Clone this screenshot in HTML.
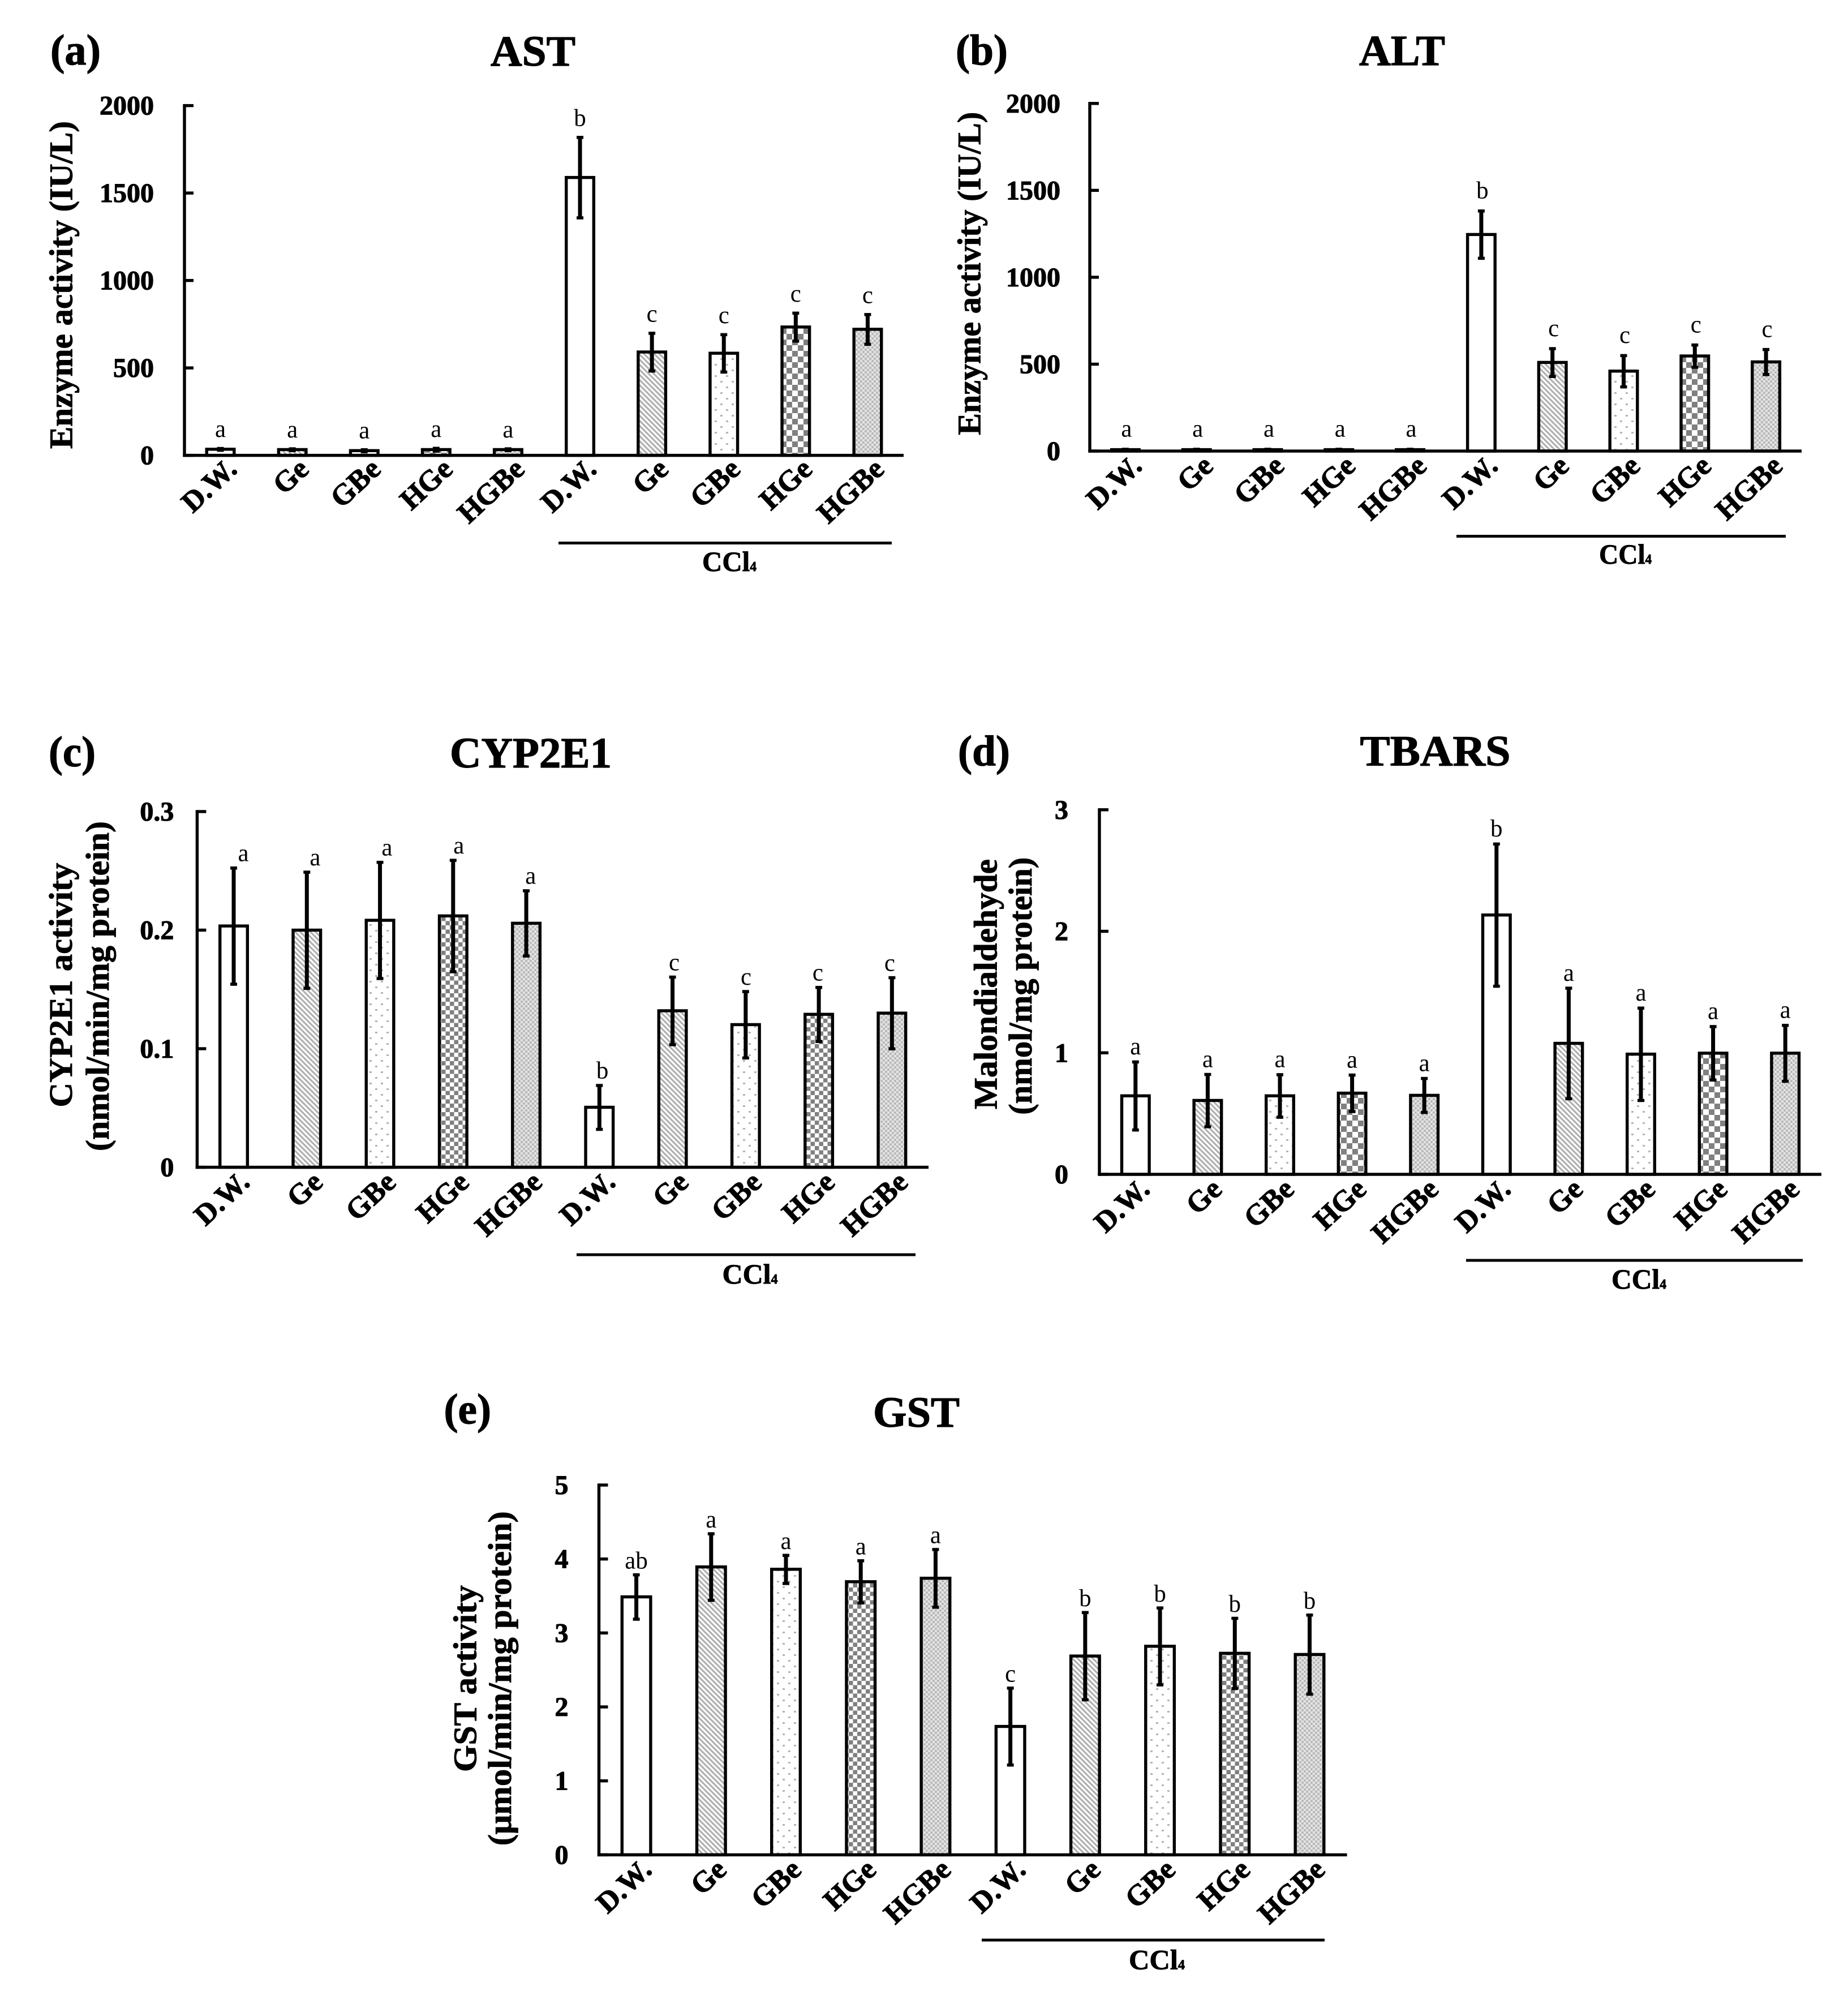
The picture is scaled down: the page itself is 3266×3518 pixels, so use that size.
<!DOCTYPE html>
<html lang="en">
<head>
<meta charset="utf-8">
<title>Liver enzyme and oxidative stress bar charts</title>
<style>
html,body{margin:0;padding:0;background:#fff;}
svg{display:block;}
text{font-family:"Liberation Serif",serif;fill:#000;}
.b{font-weight:bold;stroke:#000;stroke-width:1.1px;}
.head{font-weight:bold;font-size:76px;stroke:#000;stroke-width:1.2px;}
.yl{font-weight:bold;font-size:58px;text-anchor:middle;stroke:#000;stroke-width:0.9px;}
.ccl{font-weight:bold;font-size:50px;stroke:#000;stroke-width:0.9px;}
.ccl tspan{font-size:24px;}
</style>
</head>
<body>
<svg id="figure" xmlns="http://www.w3.org/2000/svg" width="3266" height="3518" viewBox="0 0 3266 3518">
<defs>
  <pattern id="pat-ge" width="9" height="9" patternUnits="userSpaceOnUse">
    <rect width="9" height="9" fill="#fff"/>
    <path d="M-3,-3 L12,12 M-3,6 L3,12 M6,-3 L12,3" stroke="#b0b0b0" stroke-width="3.2"/>
  </pattern>
  <pattern id="pat-gbe" width="20" height="20" patternUnits="userSpaceOnUse">
    <rect width="20" height="20" fill="#fff"/>
    <rect x="3" y="3" width="4" height="3" fill="#b4b4b4"/>
    <rect x="13" y="13" width="4" height="3" fill="#b4b4b4"/>
  </pattern>
  <pattern id="pat-hge-lg" width="20" height="20" patternUnits="userSpaceOnUse">
    <rect width="20" height="20" fill="#fff"/>
    <rect width="10" height="10" fill="#808080"/>
    <rect x="10" y="10" width="10" height="10" fill="#808080"/>
  </pattern>
  <pattern id="pat-hge-sm" width="15" height="15" patternUnits="userSpaceOnUse">
    <rect width="15" height="15" fill="#fff"/>
    <rect width="7.5" height="7.5" fill="#808080"/>
    <rect x="7.5" y="7.5" width="7.5" height="7.5" fill="#808080"/>
  </pattern>
  <pattern id="pat-hgbe" width="8" height="8" patternUnits="userSpaceOnUse">
    <rect width="8" height="8" fill="#d8d8d8"/>
    <circle cx="2" cy="2" r="1.6" fill="#aeaeae"/>
    <circle cx="6" cy="6" r="1.6" fill="#aeaeae"/>
    <circle cx="6" cy="2" r="1.1" fill="#f0f0f0"/>
    <circle cx="2" cy="6" r="1.1" fill="#f0f0f0"/>
  </pattern>
</defs>

<!-- Panel (a) -->
<g id="panel-a">
  <text class="head" x="89" y="114" textLength="89" lengthAdjust="spacingAndGlyphs">(a)</text>
  <text class="head" x="867" y="116" textLength="150" lengthAdjust="spacingAndGlyphs">AST</text>
  <text class="yl" transform="translate(127.5,503.5) rotate(-90)" textLength="579" lengthAdjust="spacingAndGlyphs">Enzyme activity (IU/L)</text>
  <rect x="987" y="957" width="589" height="5" fill="#000"/>
  <text class="ccl" x="1241" y="1009" textLength="96" lengthAdjust="spacingAndGlyphs">CCl<tspan>4</tspan></text>
</g>

<!-- Panel (b) -->
<g id="panel-b">
  <text class="head" x="1689" y="114" textLength="92" lengthAdjust="spacingAndGlyphs">(b)</text>
  <text class="head" x="2402" y="115" textLength="152" lengthAdjust="spacingAndGlyphs">ALT</text>
  <text class="yl" transform="translate(1732.4,483.3) rotate(-90)" textLength="571" lengthAdjust="spacingAndGlyphs">Enzyme activity (IU/L)</text>
  <rect x="2574" y="945" width="582" height="5" fill="#000"/>
  <text class="ccl" x="2826" y="996" textLength="93" lengthAdjust="spacingAndGlyphs">CCl<tspan>4</tspan></text>
</g>

<!-- Panel (c) -->
<g id="panel-c">
  <text class="head" x="86" y="1354" textLength="83" lengthAdjust="spacingAndGlyphs">(c)</text>
  <text class="head" x="795" y="1356" textLength="286" lengthAdjust="spacingAndGlyphs">CYP2E1</text>
  <text class="yl" transform="translate(127,1740.6) rotate(-90)" textLength="432" lengthAdjust="spacingAndGlyphs">CYP2E1 activity</text>
  <text class="yl" transform="translate(192,1742.5) rotate(-90)" textLength="583" lengthAdjust="spacingAndGlyphs">(nmol/min/mg protein)</text>
  <rect x="1019" y="2214.5" width="599" height="5" fill="#000"/>
  <text class="ccl" x="1276.5" y="2268" textLength="98" lengthAdjust="spacingAndGlyphs">CCl<tspan>4</tspan></text>
</g>

<!-- Panel (d) -->
<g id="panel-d">
  <text class="head" x="1693" y="1352.5" textLength="92" lengthAdjust="spacingAndGlyphs">(d)</text>
  <text class="head" x="2403.5" y="1352.5" textLength="266" lengthAdjust="spacingAndGlyphs">TBARS</text>
  <text class="yl" transform="translate(1761.6,1739) rotate(-90)" textLength="442" lengthAdjust="spacingAndGlyphs">Malondialdehyde</text>
  <text class="yl" transform="translate(1823,1742.3) rotate(-90)" textLength="455" lengthAdjust="spacingAndGlyphs">(nmol/mg protein)</text>
  <rect x="2591" y="2224.5" width="595" height="5" fill="#000"/>
  <text class="ccl" x="2848" y="2277" textLength="97" lengthAdjust="spacingAndGlyphs">CCl<tspan>4</tspan></text>
</g>

<!-- Panel (e) -->
<g id="panel-e">
  <text class="head" x="784.5" y="2515.6" textLength="83.5" lengthAdjust="spacingAndGlyphs">(e)</text>
  <text class="head" x="1543" y="2521" textLength="153" lengthAdjust="spacingAndGlyphs">GST</text>
  <text class="yl" transform="translate(841.6,2966) rotate(-90)" textLength="330" lengthAdjust="spacingAndGlyphs">GST activity</text>
  <text class="yl" transform="translate(903,2965.8) rotate(-90)" textLength="591" lengthAdjust="spacingAndGlyphs">(μmol/min/mg protein)</text>
  <rect x="1735" y="3425.5" width="606" height="5" fill="#000"/>
  <text class="ccl" x="1995" y="3479.5" textLength="99" lengthAdjust="spacingAndGlyphs">CCl<tspan>4</tspan></text>
</g>
</svg>

<script>
// ----- chart data -----
const categories = ['D.W.', 'Ge', 'GBe', 'HGe', 'HGBe', 'D.W.', 'Ge', 'GBe', 'HGe', 'HGBe'];

const astValues  = [35, 33, 27, 33, 33, 1589, 591, 584, 734, 721];
const astErrors  = [5, 5, 6, 8, 5, 230, 108, 107, 80, 85];
const astLetters = ['a', 'a', 'a', 'a', 'a', 'b', 'c', 'c', 'c', 'c'];
const astTicks   = ['0', '500', '1000', '1500', '2000'];

const altValues  = [8, 8, 8, 8, 8, 1246, 510, 460, 547, 513];
const altErrors  = [3, 3, 3, 3, 3, 136, 80, 90, 64, 72];
const altLetters = ['a', 'a', 'a', 'a', 'a', 'b', 'c', 'c', 'c', 'c'];
const altTicks   = ['0', '500', '1000', '1500', '2000'];

const cypValues  = [0.2035, 0.200, 0.2083, 0.212, 0.2058, 0.0506, 0.132, 0.1203, 0.129, 0.130];
const cypErrors  = [0.049, 0.049, 0.049, 0.047, 0.0275, 0.0185, 0.0285, 0.028, 0.0228, 0.030];
const cypLetters = ['a', 'a', 'a', 'a', 'a', 'b', 'c', 'c', 'c', 'c'];
const cypTicks   = ['0', '0.1', '0.2', '0.3'];

const tbarsValues  = [0.646, 0.608, 0.646, 0.668, 0.65, 2.134, 1.078, 0.989, 0.997, 0.997];
const tbarsErrors  = [0.28, 0.215, 0.175, 0.15, 0.14, 0.585, 0.455, 0.38, 0.22, 0.23];
const tbarsLetters = ['a', 'a', 'a', 'a', 'a', 'b', 'a', 'a', 'a', 'a'];
const tbarsTicks   = ['0', '1', '2', '3'];

const gstValues  = [3.488, 3.893, 3.861, 3.693, 3.74, 1.736, 2.688, 2.82, 2.725, 2.709];
const gstErrors  = [0.3, 0.45, 0.19, 0.285, 0.39, 0.52, 0.59, 0.52, 0.475, 0.535];
const gstLetters = ['ab', 'a', 'a', 'a', 'a', 'c', 'b', 'b', 'b', 'b'];
const gstTicks   = ['0', '1', '2', '3', '4', '5'];

// ----- drawing -----
const SVG_NS = 'http://www.w3.org/2000/svg';

function make(tag, parent) {
  const el = document.createElementNS(SVG_NS, tag);
  parent.appendChild(el);
  return el;
}

function yScale(p, v) {
  return p.y0 - (v / p.max) * (p.y0 - p.yTop);
}

function xBand(p, i) {
  return p.x0 + (p.x1 - p.x0) * (i + 0.5) / p.categories.length;
}

function fillFor(p, i) {
  const k = i % 5;
  if (k === 0) return '#fff';
  if (k === 1) return 'url(#pat-ge)';
  if (k === 2) return 'url(#pat-gbe)';
  if (k === 3) return p.fineCheck ? 'url(#pat-hge-sm)' : 'url(#pat-hge-lg)';
  return 'url(#pat-hgbe)';
}

function drawPanel(p) {
  const root = document.getElementById(p.id);
  const lineW = 5.4;

  p.categories.forEach(function (cat, i) {
    const v = p.values[i];
    const e = p.errors[i];
    const cx = xBand(p, i);
    const top = yScale(p, v);

    const bar = make('rect', root);
    
    
    bar.setAttribute('x', cx - (p.barW - lineW) / 2);
    bar.setAttribute('y', top);
    bar.setAttribute('width', p.barW - lineW);
    bar.setAttribute('height', Math.max(p.y0 - top, 0));
    bar.setAttribute('fill', fillFor(p, i));
    bar.setAttribute('stroke', '#000');
    bar.setAttribute('stroke-width', lineW);

    const yHi = yScale(p, v + e);
    const yLo = Math.min(yScale(p, v - e), p.y0);

    const stem = make('rect', root);
    
    
    stem.setAttribute('x', cx - 3.5);
    stem.setAttribute('y', yHi);
    stem.setAttribute('width', 7);
    stem.setAttribute('height', yLo - yHi);

    const capTop = make('rect', root);
    
    
    capTop.setAttribute('x', cx - 6);
    capTop.setAttribute('y', yHi - 2.5);
    capTop.setAttribute('width', 12);
    capTop.setAttribute('height', 5.5);

    const capLow = make('rect', root);
    
    
    capLow.setAttribute('x', cx - 6);
    capLow.setAttribute('y', yLo - 2.5);
    capLow.setAttribute('width', 12);
    capLow.setAttribute('height', 5.5);

    const sig = make('text', root);
    
    
    sig.setAttribute('x', cx + p.sigDxStart + (p.sigDxEnd - p.sigDxStart) * i / (p.categories.length - 1));
    sig.setAttribute('y', yHi - p.sigGap);
    sig.setAttribute('text-anchor', 'middle');
    sig.setAttribute('font-size', '43');
    sig.textContent = p.letters[i];

    const lab = make('text', root);
    
    
    lab.setAttribute('class', 'b');
    lab.setAttribute('text-anchor', 'end');
    lab.setAttribute('font-size', '52');
    lab.setAttribute('transform', 'translate(' + (cx + p.catDx) + ',' + (p.y0 + p.catDy) + ') rotate(-43)');
    lab.textContent = cat;
  });

  const yAxis = make('rect', root);
  
  
  yAxis.setAttribute('x', p.x0 - lineW / 2);
  yAxis.setAttribute('y', p.yTop - lineW / 2);
  yAxis.setAttribute('width', lineW);
  yAxis.setAttribute('height', p.y0 - p.yTop + lineW);

  const xAxis = make('rect', root);
  
  
  xAxis.setAttribute('x', p.x0 - lineW / 2);
  xAxis.setAttribute('y', p.y0 - lineW / 2);
  xAxis.setAttribute('width', p.x1 - p.x0 + lineW / 2);
  xAxis.setAttribute('height', lineW);

  p.ticks.forEach(function (label) {
    const y = yScale(p, Number(label));

    const tick = make('rect', root);
    
    
    tick.setAttribute('x', p.x0);
    tick.setAttribute('y', y - lineW / 2);
    tick.setAttribute('width', 16);
    tick.setAttribute('height', lineW);

    const txt = make('text', root);
    
    
    txt.setAttribute('class', 'b');
    txt.setAttribute('text-anchor', 'end');
    txt.setAttribute('font-size', '48');
    txt.setAttribute('x', p.x0 - p.tickGap);
    txt.setAttribute('y', y + 16);
    txt.textContent = label;
  });
}

drawPanel({ id: 'panel-a', categories: categories, values: astValues, errors: astErrors, letters: astLetters, ticks: astTicks,
  max: 2000, x0: 326, x1: 1597, yTop: 186.6, y0: 804.6, barW: 54, fineCheck: false, tickGap: 54, sigGap: 20, sigDxStart: 0, sigDxEnd: 0, catDx: 32, catDy: 28 });
drawPanel({ id: 'panel-b', categories: categories, values: altValues, errors: altErrors, letters: altLetters, ticks: altTicks,
  max: 2000, x0: 1926, x1: 3184, yTop: 182.8, y0: 797, barW: 54, fineCheck: false, tickGap: 52, sigGap: 22, sigDxStart: 2, sigDxEnd: 2, catDx: 32, catDy: 30 });
drawPanel({ id: 'panel-c', categories: categories, values: cypValues, errors: cypErrors, letters: cypLetters, ticks: cypTicks,
  max: 0.3, x0: 348.4, x1: 1641, yTop: 1434, y0: 2062.5, barW: 54, fineCheck: true, tickGap: 41, sigGap: 12, sigDxStart: 17, sigDxEnd: -4, catDx: 31, catDy: 30 });
drawPanel({ id: 'panel-d', categories: categories, values: tbarsValues, errors: tbarsErrors, letters: tbarsLetters, ticks: tbarsTicks,
  max: 3, x0: 1943, x1: 3219, yTop: 1430.8, y0: 2075, barW: 54, fineCheck: false, tickGap: 55, sigGap: 13, sigDxStart: 0, sigDxEnd: 0, catDx: 28, catDy: 30 });
drawPanel({ id: 'panel-e', categories: categories, values: gstValues, errors: gstErrors, letters: gstLetters, ticks: gstTicks,
  max: 5, x0: 1058.5, x1: 2380.6, yTop: 2624, y0: 3277.4, barW: 56, fineCheck: true, tickGap: 54, sigGap: 11, sigDxStart: 0, sigDxEnd: 0, catDx: 30, catDy: 30 });
</script>
</body>
</html>
